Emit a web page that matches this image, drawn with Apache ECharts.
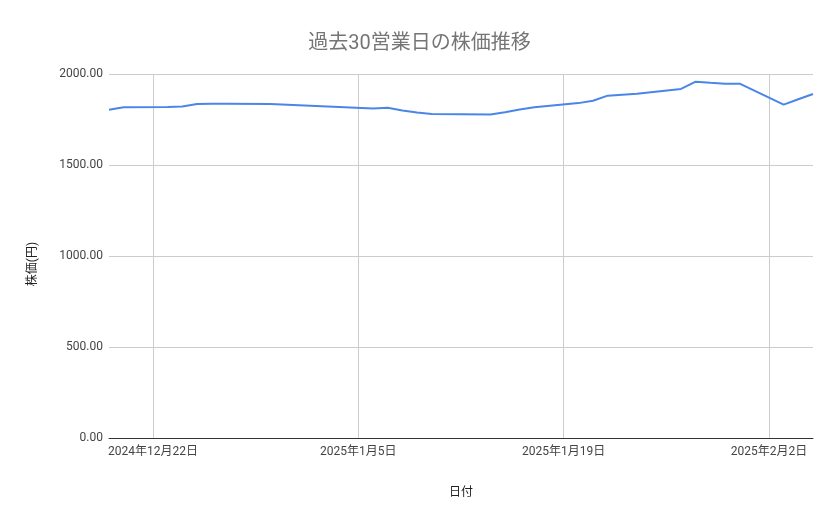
<!DOCTYPE html>
<html>
<head>
<meta charset="utf-8">
<script src="https://cdn.jsdelivr.net/npm/echarts@6/dist/echarts.min.js"></script>
<style>
html,body{margin:0;padding:0;background:#fff;}
#main{width:839px;height:519px;}
</style>
</head>
<body>
<div id="main"></div>
<script>
const titleText = '過去30営業日の株価推移';
const xAxisName = '日付';
const yAxisName = '株価(円)';

const dates = [
  '2024-12-19','2024-12-20','2024-12-23','2024-12-24','2024-12-25','2024-12-26','2024-12-27','2024-12-30',
  '2025-01-06','2025-01-07','2025-01-08','2025-01-09','2025-01-10','2025-01-14','2025-01-15','2025-01-16',
  '2025-01-17','2025-01-20','2025-01-21','2025-01-22','2025-01-23','2025-01-24','2025-01-27','2025-01-28',
  '2025-01-29','2025-01-30','2025-01-31','2025-02-03','2025-02-04','2025-02-05'
];
const prices = [
  1804, 1817, 1819, 1821, 1835, 1837, 1837, 1835,
  1811, 1815, 1800, 1788, 1780, 1778, 1790, 1805,
  1817, 1840, 1853, 1881, 1886, 1891, 1918, 1958,
  1952, 1947, 1947, 1832, 1861, 1890
];
const tickDates = ['2024-12-22','2025-01-05','2025-01-19','2025-02-02'];
const tickLabels = ['2024年12月22日','2025年1月5日','2025年1月19日','2025年2月2日'];
const axisStartDate = '2024-12-19';
const axisEndDate = '2025-02-05';
const yTicks = [0, 500, 1000, 1500, 2000];

function dayNum(s){
  const p = s.split('-').map(Number);
  return Math.round(Date.UTC(p[0], p[1]-1, p[2]) / 86400000);
}
const tickNums = tickDates.map(dayNum);
const seriesData = dates.map((d,i)=>[dayNum(d), prices[i]]);
const FONT = "Roboto, 'Noto Sans CJK JP', sans-serif";

const chart = echarts.init(document.getElementById('main'), null, {renderer:'canvas'});
chart.setOption({
  animation:false,
  backgroundColor:'#ffffff',
  title:{
    text:titleText, left:'center', top:29,
    textStyle:{color:'#757575', fontSize:20, fontWeight:'normal', fontFamily:FONT}
  },
  grid:{left:109, right:26, top:74, bottom:81, containLabel:false},
  xAxis:{
    type:'value',
    min:dayNum(axisStartDate), max:dayNum(axisEndDate),
    name:xAxisName, nameLocation:'middle', nameGap:49,
    nameTextStyle:{color:'#222', fontSize:12, fontFamily:FONT},
    axisLine:{show:true, onZero:false, lineStyle:{color:'#333', width:1}},
    axisTick:{show:false, customValues:tickNums},
    axisLabel:{
      customValues:tickNums, color:'#444', fontSize:12, fontFamily:FONT, margin:8,
      formatter:function(v){ const i = tickNums.indexOf(Math.round(v)); return i>=0 ? tickLabels[i] : ''; }
    },
    splitLine:{show:true, lineStyle:{color:'#cccccc', width:1}}
  },
  yAxis:{
    type:'value', min:yTicks[0], max:yTicks[yTicks.length-1], interval:500,
    name:yAxisName, nameLocation:'middle', nameGap:70, nameRotate:90,
    nameTextStyle:{color:'#222', fontSize:12, fontFamily:FONT, padding:[0,16,0,0]},
    axisLine:{show:false}, axisTick:{show:false},
    axisLabel:{color:'#444', fontSize:12, fontFamily:FONT, margin:6, formatter:v=>v.toFixed(2)},
    splitLine:{show:true, lineStyle:{color:'#cccccc', width:1}}
  },
  series:[{
    type:'line', data:seriesData, showSymbol:false, smooth:false,
    lineStyle:{color:'#4a86e8', width:2}, itemStyle:{color:'#4a86e8'}
  }]
});
</script>
</body>
</html>
